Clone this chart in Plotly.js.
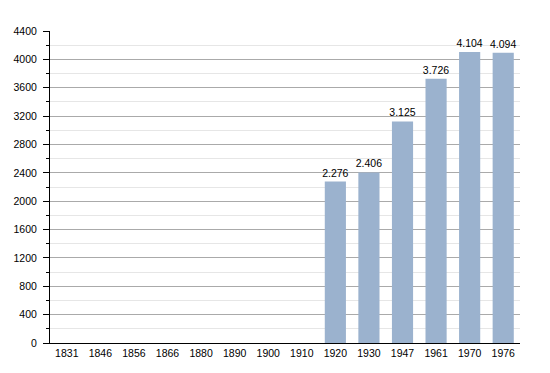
<!DOCTYPE html>
<html>
<head>
<meta charset="utf-8">
<script src="https://cdn.plot.ly/plotly-3.0.1.min.js"></script>
<style>html,body{margin:0;padding:0;background:#fff;}#chart{width:550px;height:373px;}</style>
</head>
<body>
<div id="chart"></div>
<script>
const years = ["1831","1846","1856","1866","1880","1890","1900","1910","1920","1930","1947","1961","1970","1976"];
const population = [null,null,null,null,null,null,null,null,2276,2406,3125,3726,4104,4094];
const labels = population.map(v => v === null ? "" : (Math.floor(v/1000) + "." + String(v%1000).padStart(3,"0")));

const trace = {
  type: "bar",
  x: years,
  y: population,
  text: labels,
  textposition: "outside",
  constraintext: "none",
  cliponaxis: false,
  textfont: {family: "Liberation Sans, Arial, sans-serif", size: 10.5, color: "#000"},
  marker: {color: "#9bb2ce", line: {width: 0}},
  hoverinfo: "none"
};

const layout = {
  width: 550, height: 373,
  margin: {l: 50, r: 30, t: 31, b: 30, pad: 0},
  paper_bgcolor: "#fff", plot_bgcolor: "#fff",
  font: {family: "Liberation Sans, Arial, sans-serif", size: 10.5, color: "#000"},
  bargap: 0.37,
  showlegend: false,
  xaxis: {
    type: "category",
    showline: true, linecolor: "#000", linewidth: 1,
    ticks: "", showgrid: false, zeroline: false,
    tickfont: {size: 10.5}
  },
  yaxis: {
    range: [0, 4400], dtick: 400, tick0: 0,
    showline: true, linecolor: "#000", linewidth: 1,
    ticks: "outside", ticklen: 6, tickcolor: "#000",
    ticklabelstandoff: 4,
    showgrid: true, gridcolor: "#aaaaaa", gridwidth: 1,
    zeroline: false,
    tickfont: {size: 10.5},
    minor: {dtick: 200, ticks: "outside", ticklen: 3, tickcolor: "#000", showgrid: true, gridcolor: "#e6e6e6"}
  }
};

Plotly.newPlot("chart", [trace], layout, {staticPlot: true, displayModeBar: false});
</script>
</body>
</html>
